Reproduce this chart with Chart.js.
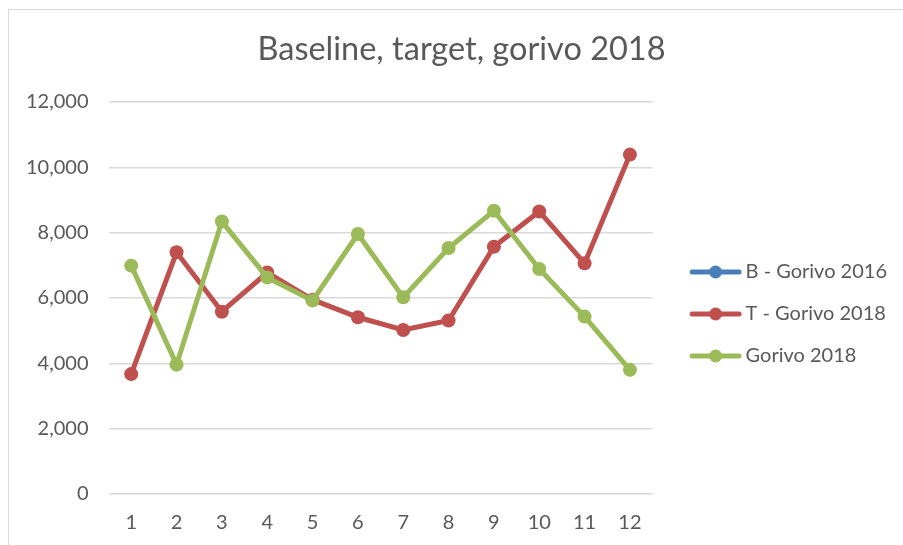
<!DOCTYPE html>
<html>
<head>
<meta charset="utf-8">
<script src="https://cdn.jsdelivr.net/npm/chart.js@4"></script>
<style>
  html, body { margin: 0; padding: 0; background: #fff; }
  #wrap { position: relative; width: 903px; height: 545px; }
  #frame {
    position: absolute; left: 8px; top: 9px; right: -10px; bottom: -10px;
    border-left: 1px solid #d9d9d9; border-top: 1px solid #d9d9d9;
    pointer-events: none;
  }
</style>
</head>
<body>
<div id="wrap">
  <canvas id="chart" width="903" height="545"></canvas>
  <div id="frame"></div>
</div>
<script>
const months = ['1', '2', '3', '4', '5', '6', '7', '8', '9', '10', '11', '12']
const baseline2016 = [null, null, null, null, null, null, null, null, null, null, null, null]
const target2018 = [3670, 7400, 5580, 6780, 5950, 5410, 5020, 5310, 7570, 8650, 7060, 10390]
const gorivo2018 = [6990, 3960, 8340, 6630, 5920, 7960, 6020, 7530, 8670, 6890, 5430, 3800]

const FONT = 'Lato, "Open Sans", sans-serif'
const TEXT = '#595959'
const GRID = '#d9d9d9'

// legend marker: short line with a dot, drawn wider than the legend box so it sits close to the text
function legendMarker(color) {
  const c = document.createElement('canvas')
  c.width = 74
  c.height = 14
  const g = c.getContext('2d')
  g.strokeStyle = color
  g.lineWidth = 5
  g.lineCap = 'round'
  g.beginPath()
  g.moveTo(24, 7)
  g.lineTo(71, 7)
  g.stroke()
  g.fillStyle = color
  g.beginPath()
  g.arc(47.5, 7, 6.5, 0, Math.PI * 2)
  g.fill()
  return c
}

function series(label, data, color, order) {
  return {
    label: label,
    data: data,
    borderColor: color,
    backgroundColor: color,
    borderWidth: 5,
    pointRadius: 7,
    pointHoverRadius: 7,
    pointBorderWidth: 0,
    pointStyle: 'circle',
    tension: 0,
    order: order,
    legendMarker: legendMarker(color)
  }
}

// title in the original sits a bit right of the canvas centre
const shiftTitle = {
  id: 'shiftTitle',
  afterLayout(chart) {
    chart.titleBlock.left += 10
    chart.titleBlock.right += 10
  }
}

const ctx = document.getElementById('chart').getContext('2d')
new Chart(ctx, {
  type: 'line',
  data: {
    labels: months,
    datasets: [
      series('B - Gorivo 2016', baseline2016, '#4a7ebb', 3),
      series('T - Gorivo 2018', target2018, '#c0504d', 2),
      series('Gorivo 2018', gorivo2018, '#9bbb59', 1)
    ]
  },
  plugins: [shiftTitle],
  options: {
    responsive: false,
    animation: false,
    layout: { padding: { left: 6, right: 6, top: 0, bottom: 1 } },
    plugins: {
      title: {
        display: true,
        text: 'Baseline, target, gorivo 2018',
        color: TEXT,
        font: { family: FONT, size: 32.5, weight: 'normal' },
        padding: { top: 30.5, bottom: 32.5 }
      },
      legend: {
        position: 'right',
        align: 'start',
        maxWidth: 300,
        title: {
          display: true,
          text: ' ',
          font: { family: FONT, size: 10 },
          padding: { top: 228, bottom: 0 }
        },
        labels: {
          color: TEXT,
          font: { family: FONT, size: 20 },
          usePointStyle: true,
          pointStyleWidth: 61,
          padding: 22,
          generateLabels: (chart) => chart.data.datasets.map((ds, i) => ({
            text: ds.label,
            fontColor: TEXT,
            pointStyle: ds.legendMarker,
            datasetIndex: i,
            hidden: false,
            lineWidth: 0
          }))
        }
      },
      tooltip: { enabled: false }
    },
    scales: {
      x: {
        offset: true,
        grid: { display: false },
        border: { display: false },
        ticks: { color: TEXT, font: { family: FONT, size: 20 }, padding: 9 }
      },
      y: {
        min: 0,
        max: 12000,
        grid: { color: GRID, lineWidth: 1.5, drawTicks: false },
        border: { display: false },
        ticks: {
          stepSize: 2000,
          color: TEXT,
          font: { family: FONT, size: 20 },
          padding: 20,
          callback: (v) => v.toLocaleString('en-US')
        }
      }
    }
  }
})
</script>
</body>
</html>
